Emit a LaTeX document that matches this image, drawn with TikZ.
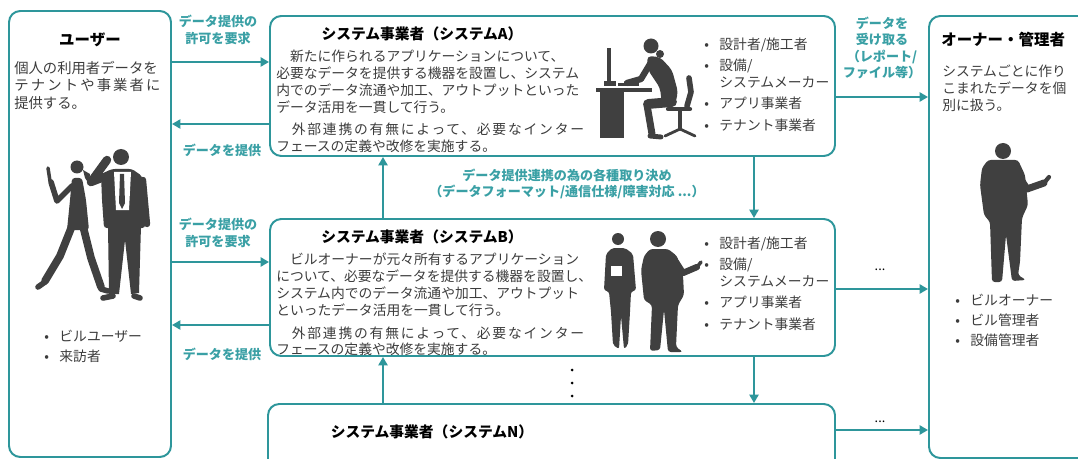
\documentclass[tikz,border=0pt]{standalone}
\usepackage{fontspec}
\setmainfont{Noto Sans CJK JP}
\usetikzlibrary{arrows.meta}
\usetikzlibrary{fit}

\definecolor{lineteal}{RGB}{46,150,155}
\definecolor{labelteal}{RGB}{58,160,165}
\definecolor{textgray}{RGB}{60,60,60}
\definecolor{figgray}{RGB}{64,64,64}

% spaced-out line, and a bullet of fixed width
\newcommand{\ls}[2]{{\addfontfeature{LetterSpace=#1}#2}}
\newcommand{\itm}{\makebox[1.1em][l]{•}}

\begin{document}
\begin{tikzpicture}[x=0.025cm,y=-0.025cm]
\tikzstyle{box}=[draw=lineteal, line width=1.4pt, rounded corners=8pt, inner sep=0pt]
\tikzstyle{flow}=[draw=lineteal, line width=2.1pt, -{Triangle[length=6pt,width=6.5pt]}]
\tikzstyle{lbl}=[text=labelteal, font=\fontsize{9.3}{11.8}\selectfont\bfseries, align=center, inner sep=0pt]
\tikzstyle{title}=[text=black, font=\fontsize{10.5}{12}\selectfont\bfseries, inner sep=0pt]
\tikzstyle{body}=[text=textgray, font=\fontsize{9.8}{12}\selectfont, align=left, anchor=north west, inner sep=0pt]
\tikzstyle{fig}=[fill=figgray]
\tikzstyle{limb}=[draw=figgray, line cap=round, line join=round]

\useasboundingbox (0,0) rectangle (1078,459);
\clip (0,0) rectangle (1078,459);

% the boxes
\node (user) [box, fit={(9,11) (171,457)}] {};
\node (sysA) [box, fit={(270,16) (835,156)}] {};
\node (sysB) [box, fit={(270,219) (835,356)}] {};
\node (sysN) [box, fit={(268,404) (835,490)}] {};
\node (owner) [box, fit={(929,16) (1100,458)}] {};

% user
\node (userT) [title, font=\fontsize{11}{12}\selectfont\bfseries] at (90,40) {ユーザー};
\node (userB) [body, font=\fontsize{10.2}{12.4}\selectfont] at (14,61) {個人の利用者データを\\\ls{15}{テナントや事業者に}\\提供する。};
\node (userL) [body] at (44,330) {\itm ビルユーザー\\[2pt]\itm 来訪者};

% system A
\node (sysAT) [title] at (422,34) {システム事業者（システムA）};
\node (sysAB) [body] at (276,50) {　新たに作られるアプリケーションについて、\\必要なデータを提供する機器を設置し、システム\\内でのデータ流通や加工、アウトプットといった\\データ活用を一貫して行う。\\[4pt]\ls{13}{　外部連携の有無によって、必要なインター}\\フェースの定義や改修を実施する。};
\node (sysAL) [body] at (704,38) {\itm 設計者/施工者\\[3pt]\itm 設備/\\\hspace*{1.1em}システムメーカー\\[3pt]\itm アプリ事業者\\[3pt]\itm テナント事業者};

% system B
\node (sysBT) [title] at (422,237) {システム事業者（システムB）};
\node (sysBB) [body] at (276,253) {　ビルオーナーが元々所有するアプリケーション\\について、必要なデータを提供する機器を設置し、\\システム内でのデータ流通や加工、アウトプット\\といったデータ活用を一貫して行う。\\[4pt]\ls{13}{　外部連携の有無によって、必要なインター}\\フェースの定義や改修を実施する。};
\node (sysBL) [body] at (704,237) {\itm 設計者/施工者\\[3pt]\itm 設備/\\\hspace*{1.1em}システムメーカー\\[3pt]\itm アプリ事業者\\[3pt]\itm テナント事業者};

% system N
\node (sysNT) [title] at (432,432) {システム事業者（システムN）};

% owner
\node (ownerT) [title, font=\fontsize{11}{12}\selectfont\bfseries, anchor=west] at (941,40) {オーナー・管理者};
\node (ownerB) [body] at (942,65) {システムごとに作り\\こまれたデータを個\\別に扱う。};
\node (ownerL) [body] at (955,294) {\itm ビルオーナー\\[2pt]\itm ビル管理者\\[2pt]\itm 設備管理者};

% arrows between user and systems
\draw[flow] (user.east |- 0,62) -- (sysA.west |- 0,62);
\draw[flow] (sysA.west |- 0,124) -- (user.east |- 0,124);
\draw[flow] (user.east |- 0,262) -- (sysB.west |- 0,262);
\draw[flow] (sysB.west |- 0,325) -- (user.east |- 0,325);
\node (askA) [lbl] at (218,30) {データ提供の\\許可を要求};
\node (giveA) [lbl] at (222,150) {データを提供};
\node (askB) [lbl] at (218,233) {データ提供の\\許可を要求};
\node (giveB) [lbl] at (222,354) {データを提供};

% arrows between the systems
\draw[flow] (sysB.north -| 383,0) -- (sysA.south -| 383,0);
\draw[flow] (sysA.south -| 754,0) -- (sysB.north -| 754,0);
\draw[flow] (sysN.north -| 383,0) -- (sysB.south -| 383,0);
\draw[flow] (sysB.south -| 754,0) -- (sysN.north -| 754,0);
\node (rules) [lbl] at (567,184) {データ提供連携の為の各種取り決め\\（データフォーマット/通信仕様/障害対応 ...）};
\foreach \y in {370,383,396}
  \fill[black] (572,\y) circle (1.5);

% arrows to the owner
\draw[flow] (sysA.east |- 0,97) -- (owner.west |- 0,97);
\draw[flow] (sysB.east |- 0,289) -- (owner.west |- 0,289);
\draw[flow] (sysN.east |- 0,430) -- (owner.west |- 0,430);
\node (recv) [lbl] at (882,48) {データを\\受け取る\\（レポート/\\ファイル等）};
\node (moreB) [text=black, font=\small] at (880,270) {...};
\node (moreN) [text=black, font=\small] at (880,422) {...};

% people: walking woman and man on the phone
\fill[fig] (77,167) circle (6.5);
\fill[fig] (83,170) -- (90,174) -- (89,184) -- (85,178) -- cycle;
\fill[fig, rounded corners=2pt] (72,178) -- (82,178) -- (86,200) -- (89,230) -- (67,230) -- (70,200) -- cycle;
\draw[limb, line width=5.5pt] (72,226) -- (60,256) -- (45,281);
\draw[limb, line width=4pt] (45,282) -- (38,287);
\draw[limb, line width=5.5pt] (83,226) -- (91,258) -- (101,287);
\draw[limb, line width=4pt] (101,289) -- (108,291);
\draw[limb, line width=4pt] (72,186) -- (57,201) -- (51,182);
\draw[limb, line width=2.5pt] (50,181) -- (48,168);
\fill[fig] (121,157) circle (8);
\fill[fig, rounded corners=2pt] (101,174) -- (112,169) -- (132,169) -- (142,176) -- (146,214) -- (145,228) -- (104,228) -- (102,200) -- cycle;
\fill[white] (114,172) -- (131,172) -- (129,210) -- (116,210) -- cycle;
\fill[fig] (120,174) -- (124,174) -- (125,203) -- (122,209) -- (119,203) -- cycle;
\draw[limb, line width=6pt] (104,177) -- (91,182) -- (107,160);
\draw[limb, line width=4.5pt] (143,180) -- (147,224);
\fill[fig] (108,226) -- (141,226) -- (139,293) -- (131,294) -- (125,240) -- (119,294) -- (109,294) -- cycle;
\draw[limb, line width=4pt] (113,296) -- (103,298);
\draw[limb, line width=4pt] (134,296) -- (140,298);

% woman at the desk
\fill[fig] (607,48) rectangle (611,84);
\fill[fig] (604,81) rectangle (616,86);
\fill[fig] (618,83) rectangle (639,86);
\fill[fig] (596,88) rectangle (652,92);
\fill[fig] (600,92) rectangle (624,138);
\fill[fig] (651,46) circle (7.5);
\fill[fig] (660,54) circle (4);
\fill[fig, rounded corners=3pt] (647,56) -- (660,57) -- (672,70) -- (678,92) -- (675,105) -- (662,105) -- (660,88) -- (648,70) -- cycle;
\draw[limb, line width=4.5pt] (650,64) -- (641,79) -- (627,83);
\draw[limb, line width=7pt] (672,102) -- (648,104);
\draw[limb, line width=5pt] (647,105) -- (652,134);
\draw[limb, line width=3.5pt] (650,136) -- (661,137);
\draw[limb, line width=4pt] (689,78) -- (691,92) -- (687,106);
\draw[limb, line width=3pt] (668,109) -- (690,109);
\draw[limb, line width=2.5pt] (680,110) -- (680,129);
\draw[limb, line width=2pt] (665,136) -- (680,129) -- (695,136);

% businesswoman and businessman
\fill[fig] (618,239) circle (6);
\fill[fig, rounded corners=1.5pt] (612,248) -- (625,248) -- (633,254) -- (636,290) -- (631,292) -- (630,312) -- (628,345) -- (624,349) -- (621,316) -- (619,349) -- (613,345) -- (611,312) -- (609,292) -- (604,290) -- (606,254) -- cycle;
\fill[white] (611,266) rectangle (622,276);
\fill[fig] (658,239) circle (8);
\fill[fig, rounded corners=2pt] (650,249) -- (668,249) -- (677,256) -- (683,275) -- (684,295) -- (678,305) -- (676,347) -- (683,352) -- (668,352) -- (664,310) -- (660,350) -- (650,351) -- (652,305) -- (644,300) -- (641,270) -- (644,256) -- cycle;
\draw[limb, line width=4.5pt] (676,262) -- (683,273) -- (697,267);
\draw[limb, line width=2.5pt] (697,267) -- (701,262);

% owner figure
\fill[fig] (1003,151) circle (8);
\fill[fig, rounded corners=2pt] (988,160) -- (1018,160) -- (1025,175) -- (1028,205) -- (1022,218) -- (1020,262) -- (1018,275) -- (1026,280) -- (1012,281) -- (1006,235) -- (1002,282) -- (992,282) -- (990,222) -- (984,215) -- (980,185) -- (982,168) -- cycle;
\draw[limb, line width=5pt] (1020,178) -- (1027,189) -- (1044,183);
\draw[limb, line width=3pt] (1044,183) -- (1049,177);

\end{tikzpicture}
\end{document}
